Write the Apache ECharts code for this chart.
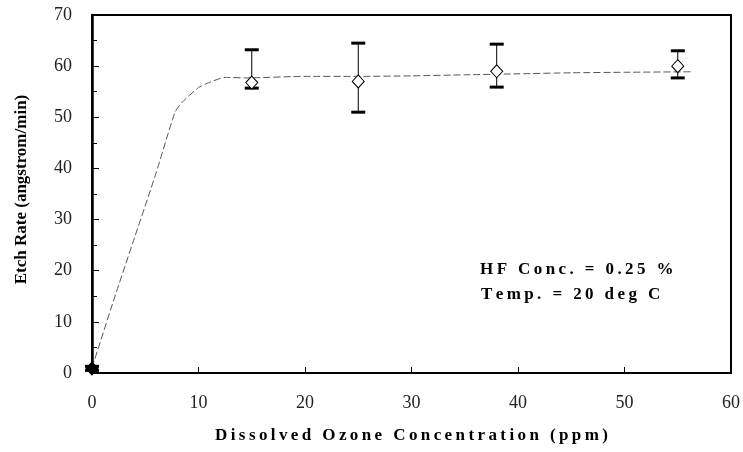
<!DOCTYPE html>
<html><head><meta charset="utf-8">
<script src="https://cdn.jsdelivr.net/npm/echarts@6/dist/echarts.min.js"></script>
<style>html,body{margin:0;padding:0;background:#fff}#c{width:743px;height:452px}</style>
</head><body><div id="c"></div>
<script>
// Measured points (ppm, etch rate)
const ozone = [0, 15, 25, 38, 55];
const rate = [0.9, 56.8, 57.0, 59.0, 60.0];
const errLow = [0.5, 55.7, 51.0, 55.9, 57.7];
const errHigh = [1.3, 63.2, 64.5, 64.3, 63.0];
// Dashed fitted curve
const fitX = [0, 2, 4, 6, 7.8, 8.5, 10, 11, 12.5, 14.5, 20, 25, 30, 35, 40, 45, 50, 56.3];
const fitY = [1, 14, 26.5, 39, 51, 53, 55.8, 56.8, 57.8, 57.7, 58, 58, 58.1, 58.3, 58.5, 58.7, 58.8, 58.9];
const xTicks = [0, 10, 20, 30, 40, 50, 60];
const yTicks = [0, 10, 20, 30, 40, 50, 60, 70];
const xTitle = 'Dissolved Ozone Concentration (ppm)';
const yTitle = 'Etch Rate (angstrom/min)';
const note1 = 'HF Conc. = 0.25 %';
const note2 = 'Temp. = 20 deg C';

const THIN = '\u2009';
function spaced(s, sep){ return s.split('').join(sep); }

const serif = '"Liberation Serif", "DejaVu Serif", serif';
const chart = echarts.init(document.getElementById('c'));
chart.setOption({
  animation: false,
  backgroundColor: '#fff',
  grid: { left: 92, right: 10, top: 15, bottom: 79, show: true, borderColor: '#000', borderWidth: 2 },
  xAxis: {
    type: 'value', min: xTicks[0], max: xTicks[xTicks.length-1], interval: 10,
    axisLine: { show: true, onZero: false, lineStyle: { color: '#000', width: 2 } },
    axisTick: { show: true, inside: true, length: 6, lineStyle: { color: '#000', width: 1 } },
    axisLabel: { color: '#222', fontFamily: serif, fontSize: 18, margin: 21 },
    splitLine: { show: false },
    name: spaced(xTitle, THIN), nameLocation: 'middle', nameGap: 54,
    nameTextStyle: { fontFamily: serif, fontWeight: 'bold', fontSize: 17, color: '#000' }
  },
  yAxis: {
    type: 'value', min: yTicks[0], max: yTicks[yTicks.length-1], interval: 10,
    axisLine: { show: true, onZero: false, lineStyle: { color: '#000', width: 2.5 } },
    axisTick: { show: true, inside: true, length: 7, lineStyle: { color: '#000', width: 1 } },
    minorTick: { show: true, splitNumber: 2, length: 5, lineStyle: { color: '#000', width: 1 } },
    axisLabel: { color: '#222', fontFamily: serif, fontSize: 18, margin: 20, padding: [4, 0, 0, 0] },
    splitLine: { show: false },
    name: yTitle, nameLocation: 'middle', nameGap: 62,
    nameTextStyle: { fontFamily: serif, fontWeight: 'bold', fontSize: 17, color: '#000', padding: [0, 0, 0, 9] }
  },
  graphic: [
    { type: 'text', left: 480, top: 261, style: { text: spaced(note1, THIN), font: 'bold 17px ' + serif, fill: '#000' } },
    { type: 'text', left: 481, top: 286, style: { text: spaced(note2, THIN), font: 'bold 17px ' + serif, fill: '#000' } }
  ],
  series: [
    {
      type: 'line', data: fitX.map((x, i) => [x, fitY[i]]), symbol: 'none', smooth: 0.2,
      lineStyle: { color: '#555', width: 1, type: [7, 3] }, z: 2
    },
    {
      type: 'custom', z: 3,
      data: ozone.map((x, i) => [x, errLow[i], errHigh[i]]),
      renderItem: function (params, api) {
        const top = api.coord([api.value(0), api.value(2)]);
        const bot = api.coord([api.value(0), api.value(1)]);
        const w = 7;
        return { type: 'group', children: [
          { type: 'line', shape: { x1: top[0], y1: top[1], x2: bot[0], y2: bot[1] }, style: { stroke: '#000', lineWidth: 1 } },
          { type: 'line', shape: { x1: top[0]-w, y1: top[1], x2: top[0]+w, y2: top[1] }, style: { stroke: '#000', lineWidth: 3 } },
          { type: 'line', shape: { x1: bot[0]-w, y1: bot[1], x2: bot[0]+w, y2: bot[1] }, style: { stroke: '#000', lineWidth: 3 } }
        ]};
      }
    },
    {
      type: 'scatter', z: 4, symbol: 'diamond', symbolSize: [12, 13],
      data: ozone.map((x, i) => ({ value: [x, rate[i]], itemStyle: i === 0 ? { color: '#000' } : undefined })),
      itemStyle: { color: '#fff', borderColor: '#000', borderWidth: 1, opacity: 1 }
    }
  ]
});
</script></body></html>
